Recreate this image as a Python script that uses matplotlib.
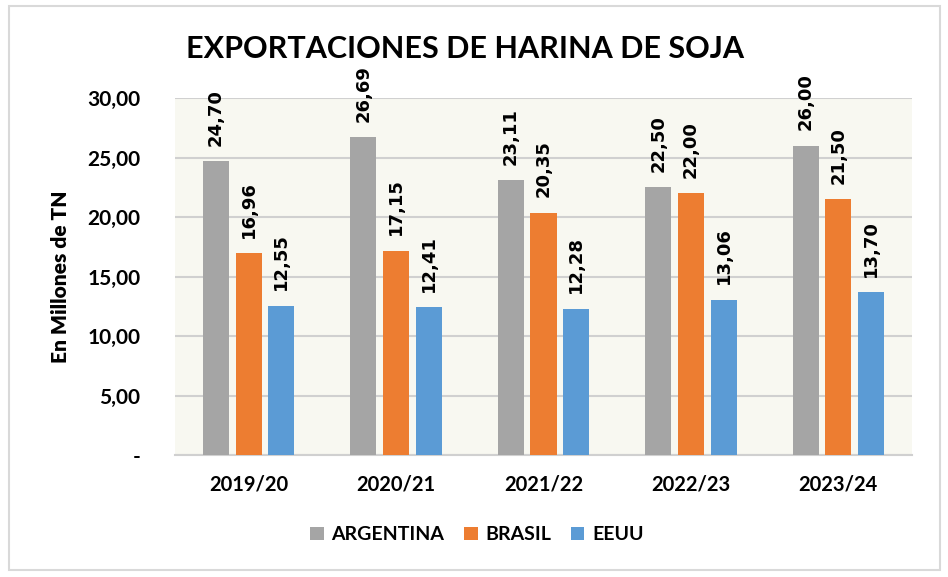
import matplotlib.pyplot as plt
import numpy as np

campanias = ["2019/20", "2020/21", "2021/22", "2022/23", "2023/24"]
argentina = [24.70, 26.69, 23.11, 22.50, 26.00]
brasil = [16.96, 17.15, 20.35, 22.00, 21.50]
eeuu = [12.55, 12.41, 12.28, 13.06, 13.70]
series = ["ARGENTINA", "BRASIL", "EEUU"]
colores = ["#a5a5a5", "#ed7d31", "#5b9bd5"]
yticks = [0, 5, 10, 15, 20, 25, 30]

def fmt(v):
    return ("%.2f" % v).replace(".", ",")

fig = plt.figure(figsize=(9.48, 5.77), dpi=100)
ax = fig.add_axes([0.1846, 0.2114, 0.7774, 0.6187])

# marco exterior
fig.patches.append(plt.Rectangle((0.009, 0.012), 0.983, 0.978, transform=fig.transFigure,
                                 fill=False, edgecolor="#d9d9d9", linewidth=1.5))

ax.set_facecolor("#f8f8f1")

x = np.arange(len(campanias))
ancho = 0.177
paso = 0.222
datos = [argentina, brasil, eeuu]
for i in range(3):
    pos = x + (i - 1) * paso
    ax.bar(pos, datos[i], ancho, color=colores[i], label=series[i], zorder=3)
    for p, v in zip(pos, datos[i]):
        ax.text(p, v + 1.3, fmt(v), rotation=90, ha="center", va="bottom",
                fontsize=13, fontweight="bold", family="DejaVu Sans", clip_on=False, zorder=4)

ax.set_xlim(-0.5, 4.5)
ax.set_ylim(0, 30)
ax.set_yticks(yticks)
ax.set_yticklabels(["-" if t == 0 else fmt(t) for t in yticks], fontsize=15,
                   fontweight="bold", family="Lato")
ax.set_xticks(x)
ax.set_xticklabels(campanias, fontsize=14.5, fontweight="bold", family="Lato")
ax.tick_params(axis="both", length=0, pad=14)
ax.tick_params(axis="y", pad=25)
ax.yaxis.grid(True, color="#d0d0d0", linewidth=1.5, zorder=1)
ax.set_axisbelow(True)
for s in ["top", "right", "left"]:
    ax.spines[s].set_visible(False)
ax.spines["bottom"].set_color("#d0d0d0")
ax.spines["bottom"].set_linewidth(1.5)

ax.set_ylabel("En Millones de TN", fontsize=15, fontweight="heavy", family="Lato")
ax.yaxis.set_label_coords(-0.143, 0.5)

fig.text(0.49, 0.915, "EXPORTACIONES DE HARINA DE SOJA", ha="center", va="center",
         fontsize=22, fontweight="bold", family="Lato")

fig.legend(loc="center", bbox_to_anchor=(0.503, 0.073), ncol=3, frameon=False,
           prop={"family": "Lato", "weight": "bold", "size": 14},
           handlelength=0.7, handleheight=0.7, handletextpad=0.4, columnspacing=1.0)

fig.savefig("out.png", dpi=100)
